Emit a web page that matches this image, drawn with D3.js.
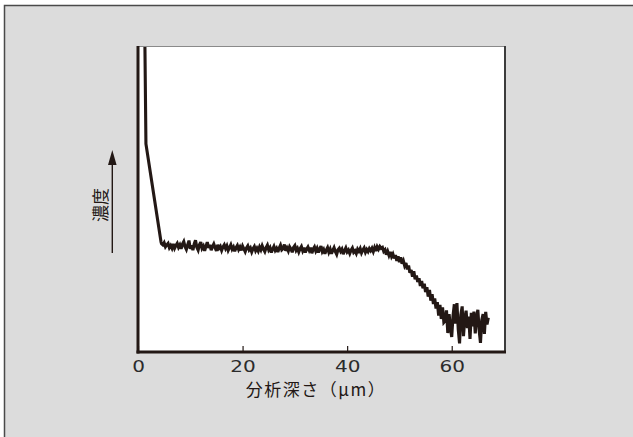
<!DOCTYPE html>
<html>
<head>
<meta charset="utf-8">
<script src="https://cdn.jsdelivr.net/npm/d3@7"></script>
<style>
  body { margin:0; background:#ffffff; }
</style>
</head>
<body>
<div id="chart-area"></div>
<script>
/*
*    Depth profile - 濃度 vs 分析深さ
*/

// Tick labels
var xTicks = [0, 20, 40, 60];

// Depth (µm)
var depth = [
  1.25, 1.52, 4.4, 4.5,
  4.75, 5, 5.25, 5.5, 5.75, 6, 6.25, 6.5,
  6.75, 7, 7.25, 7.5, 7.75, 8, 8.25, 8.5,
  8.75, 9, 9.25, 9.5, 9.75, 10, 10.25, 10.5,
  10.75, 11, 11.25, 11.5, 11.75, 12, 12.25, 12.5,
  12.75, 13, 13.25, 13.5, 13.75, 14, 14.25, 14.5,
  14.75, 15, 15.25, 15.5, 15.75, 16, 16.25, 16.5,
  16.75, 17, 17.25, 17.5, 17.75, 18, 18.25, 18.5,
  18.75, 19, 19.25, 19.5, 19.75, 20, 20.25, 20.5,
  20.75, 21, 21.25, 21.5, 21.75, 22, 22.25, 22.5,
  22.75, 23, 23.25, 23.5, 23.75, 24, 24.25, 24.5,
  24.75, 25, 25.25, 25.5, 25.75, 26, 26.25, 26.5,
  26.75, 27, 27.25, 27.5, 27.75, 28, 28.25, 28.5,
  28.75, 29, 29.25, 29.5, 29.75, 30, 30.25, 30.5,
  30.75, 31, 31.25, 31.5, 31.75, 32, 32.25, 32.5,
  32.75, 33, 33.25, 33.5, 33.75, 34, 34.25, 34.5,
  34.75, 35, 35.25, 35.5, 35.75, 36, 36.25, 36.5,
  36.75, 37, 37.25, 37.5, 37.75, 38, 38.25, 38.5,
  38.75, 39, 39.25, 39.5, 39.75, 40, 40.25, 40.5,
  40.75, 41, 41.25, 41.5, 41.75, 42, 42.25, 42.5,
  42.75, 43, 43.25, 43.5, 43.75, 44, 44.25, 44.5,
  44.75, 45, 45.25, 45.5, 45.75, 46, 46.25, 46.5,
  46.75, 47, 47.25, 47.5, 47.75, 48, 48.25, 48.5,
  48.75, 49, 49.25, 49.5, 49.75, 50, 50.25, 50.5,
  50.75, 51, 51.25, 51.5, 51.75, 52, 52.25, 52.5,
  52.75, 53, 53.25, 53.5, 53.75, 54, 54.25, 54.5,
  54.75, 55, 55.25, 55.5, 55.75, 56, 56.25, 56.5,
  56.75, 57, 57.25, 57.5, 57.75, 58, 58.25, 58.5,
  58.75, 59, 59.25, 59.5, 59.75, 60, 60.25, 60.5,
  60.75, 61, 61.25, 61.5, 61.75, 62, 62.25, 62.5,
  62.75, 63, 63.25, 63.5, 63.75, 64, 64.25, 64.5,
  64.75, 65, 65.25, 65.5, 65.75, 66, 66.25, 66.5,
  66.75, 67
];

// Concentration (relative, 0 = axis, 100 = top of frame)
var conc = [
  112, 68, 36.0, 35.4,
  35.0, 35.7, 34.4, 35.0, 35.5, 34.1, 34.8, 33.9,
  35.3, 33.9, 34.8, 35.5, 34.2, 35.0, 33.7, 35.3,
  36.1, 34.4, 33.5, 35.0, 36.4, 33.7, 34.8, 33.3,
  35.3, 36.5, 34.2, 33.3, 35.0, 35.9, 33.9, 34.6,
  33.1, 34.6, 35.9, 34.0, 35.0, 33.3, 34.4, 35.3,
  34.1, 33.0, 35.0, 33.9, 34.5, 33.2, 34.3, 35.0,
  33.8, 34.7, 33.2, 34.1, 35.0, 33.6, 34.3, 32.9,
  34.1, 34.8, 33.5, 34.3, 33.2, 34.6, 33.7, 32.8,
  34.0, 34.7, 33.4, 34.0, 32.7, 33.8, 34.5, 33.1,
  33.9, 33.0, 34.3, 33.4, 34.7, 33.6, 32.8, 34.1,
  34.9, 33.4, 34.1, 32.5, 33.6, 34.5, 33.2, 33.9,
  32.7, 34.0, 34.9, 33.4, 33.8, 35.1, 33.1, 34.0,
  33.0, 34.4, 33.7, 32.6, 34.2, 34.8, 33.2, 33.9,
  32.7, 33.8, 34.5, 33.1, 34.1, 32.5, 33.6, 34.3,
  33.2, 34.1, 32.3, 33.6, 34.3, 33.0, 33.9, 32.5,
  33.7, 34.6, 32.8, 33.5, 32.1, 33.3, 34.1, 32.6,
  33.6, 32.1, 33.2, 34.1, 32.8, 31.9, 33.4, 33.9,
  32.9, 33.6, 32.0, 33.1, 34.0, 32.7, 33.3, 32.2,
  33.3, 34.0, 32.6, 33.1, 32.2, 33.6, 32.9, 33.8,
  32.4, 33.3, 34.0, 32.6, 33.5, 32.8, 33.8, 33.1,
  33.9, 32.8, 34.1, 33.0, 34.4, 33.6, 34.5, 33.9,
  34.2, 32.9, 33.4, 31.8, 32.9, 31.6, 32.7, 31.2,
  32.0, 30.6, 31.7, 29.8, 31.3, 29.4, 30.9, 28.9,
  29.8, 28.2, 29.1, 27.0, 28.3, 25.9, 26.8, 24.6,
  26.4, 23.8, 25.0, 22.9, 24.1, 21.6, 23.2, 20.8,
  22.3, 19.6, 21.2, 18.1, 20.3, 16.8, 18.9, 15.7,
  17.5, 14.2, 16.3, 11.9, 15.4, 10.8, 14.6, 9.7,
  10.2, 13.6, 6.2, 12.4, 8.0, 4.9, 11.8, 15.6,
  9.3, 16.0, 7.4, 2.8, 12.2, 14.9, 5.2, 10.9,
  13.5, 7.8, 11.6, 4.3, 12.8, 8.4, 13.2, 6.1,
  11.2, 13.8, 7.1, 3.0, 10.5, 12.4, 5.9, 13.1,
  9.0, 11.2
];

var ink = "#231815";

// Plot frame in page pixels
var plot = { left:138, right:504, top:46, bottom:352 };

var svg = d3.select("#chart-area").append("svg")
    .attr("width", 633)
    .attr("height", 437);

// Gray outer panel
svg.append("rect")
    .attr("x", 4.5)
    .attr("y", 5.5)
    .attr("width", 700)
    .attr("height", 500)
    .attr("fill", "#dcdcdc")
    .attr("stroke", "#4a4a4a")
    .attr("stroke-width", 1.5);

// White plot area
svg.append("rect")
    .attr("x", plot.left)
    .attr("y", plot.top)
    .attr("width", plot.right - plot.left)
    .attr("height", plot.bottom - plot.top)
    .attr("fill", "#ffffff");

// Scales
var x = d3.scaleLinear()
    .domain([0, 70])
    .range([plot.left, plot.right]);

var y = d3.scaleLinear()
    .domain([0, 100])
    .range([plot.bottom, plot.top]);

// Clip the curve to the frame
svg.append("clipPath")
    .attr("id", "clip")
  .append("rect")
    .attr("x", plot.left)
    .attr("y", plot.top)
    .attr("width", plot.right - plot.left)
    .attr("height", plot.bottom - plot.top);

var points = depth.map((d, i)=>{ return [d, conc[i]]; });

var line = d3.line()
    .x((d)=>{ return x(d[0]); })
    .y((d)=>{ return y(d[1]); });

svg.append("path")
    .datum(points)
    .attr("clip-path", "url(#clip)")
    .attr("d", line)
    .attr("fill", "none")
    .attr("stroke", ink)
    .attr("stroke-width", 3.1)
    .attr("stroke-linejoin", "miter")
    .attr("stroke-miterlimit", 3);

// Top and right frame edges
svg.append("line")
    .attr("x1", plot.left).attr("x2", plot.right + 1)
    .attr("y1", plot.top + 0.5).attr("y2", plot.top + 0.5)
    .attr("stroke", "#8a8a8a")
    .attr("stroke-width", 1.2);
svg.append("line")
    .attr("x1", plot.right + 1).attr("x2", plot.right + 1)
    .attr("y1", plot.top).attr("y2", plot.bottom)
    .attr("stroke", "#3c3c3c")
    .attr("stroke-width", 2);

// X axis with inward ticks
var xAxisCall = d3.axisBottom(x)
    .tickValues(xTicks)
    .tickSize(-6)
    .tickSizeOuter(0)
    .tickPadding(9);

var xAxis = svg.append("g")
    .attr("class", "x axis")
    .attr("transform", "translate(0," + plot.bottom + ")")
    .call(xAxisCall);

xAxis.select(".domain").remove();
xAxis.selectAll(".tick line")
    .attr("stroke", ink)
    .attr("stroke-width", 1.2);
xAxis.selectAll(".tick text")
    .attr("fill", "#2b2b2b")
    .attr("font-family", "DejaVu Sans, sans-serif")
    .attr("font-size", "16px")
    .attr("transform", "scale(1.25,1)");

// Heavy left and bottom axis lines
svg.append("line")
    .attr("x1", plot.left).attr("x2", plot.left)
    .attr("y1", plot.top).attr("y2", plot.bottom + 1.5)
    .attr("stroke", ink)
    .attr("stroke-width", 3);
svg.append("line")
    .attr("x1", plot.left - 1.5).attr("x2", plot.right + 2)
    .attr("y1", plot.bottom).attr("y2", plot.bottom)
    .attr("stroke", ink)
    .attr("stroke-width", 3);

// X label
svg.append("text")
    .attr("x", 316)
    .attr("y", 396)
    .attr("text-anchor", "middle")
    .attr("font-family", "Noto Sans CJK JP, sans-serif")
    .attr("font-size", "17px")
    .attr("letter-spacing", "1.5px")
    .attr("fill", ink)
    .text("分析深さ（μm）");

// Y label with arrow
svg.append("text")
    .attr("transform", "translate(99,205) rotate(-90)")
    .attr("text-anchor", "middle")
    .attr("dominant-baseline", "central")
    .attr("font-family", "Noto Sans CJK JP, sans-serif")
    .attr("font-size", "17px")
    .attr("fill", ink)
    .text("濃度");

svg.append("line")
    .attr("x1", 112.3).attr("x2", 112.3)
    .attr("y1", 253).attr("y2", 162)
    .attr("stroke", ink)
    .attr("stroke-width", 1.4);
svg.append("path")
    .attr("d", "M112.3,150 L108,165 L116.6,165 Z")
    .attr("fill", ink);
</script>
</body>
</html>
